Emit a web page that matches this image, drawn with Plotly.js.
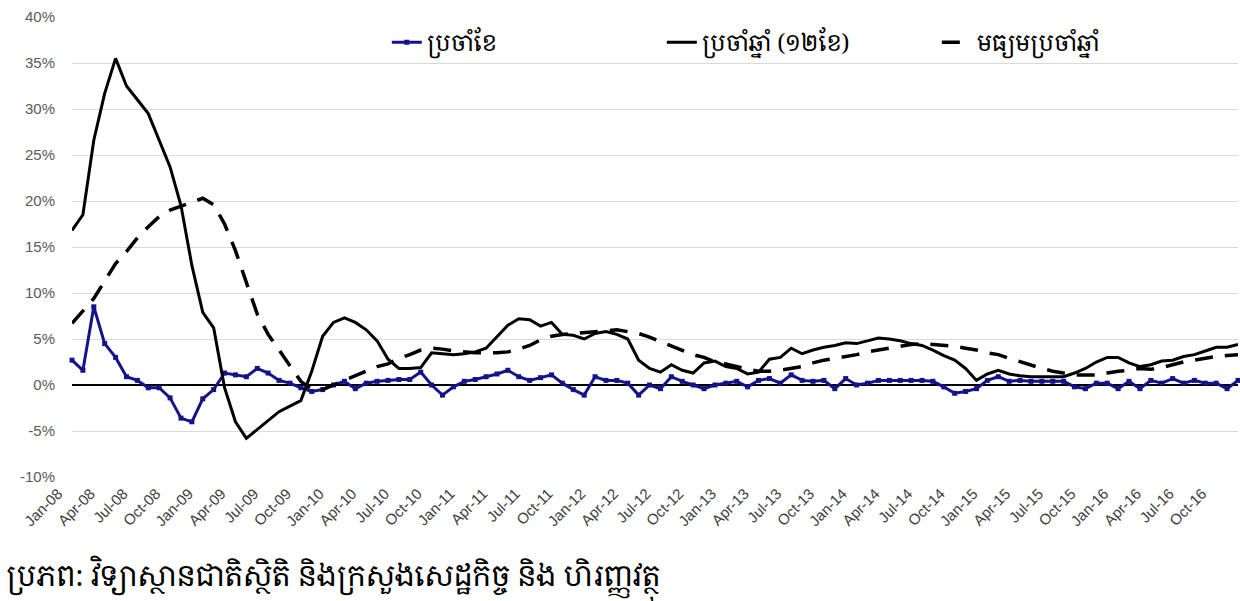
<!DOCTYPE html>
<html>
<head>
<meta charset="utf-8">
<script src="https://cdn.plot.ly/plotly-3.0.1.min.js"></script>
<style>
html,body{margin:0;padding:0;background:#fff;}
#chart{width:1240px;height:601px;}
</style>
</head>
<body>
<div id="chart"></div>
<script>
// Month labels
const MONTHS = ["Jan","Feb","Mar","Apr","May","Jun","Jul","Aug","Sep","Oct","Nov","Dec"];
const YEARS = ["08","09","10","11","12","13","14","15","16"];
const categories = [];
YEARS.forEach(y => MONTHS.forEach(m => categories.push(m + "-" + y)));

// Series names
const nameMonthly = "ប្រចាំខែ";
const nameAnnual = "ប្រចាំឆ្នាំ (១២ខែ)";
const nameAverage = "មធ្យមប្រចាំឆ្នាំ";
const sourceText = "ប្រភព: វិទ្យាស្ថានជាតិស្ថិតិ និងក្រសួងសេដ្ឋកិច្ច និង ហិរញ្ញវត្ថុ";

// Monthly inflation (%)
const monthly = [
 2.7, 1.6, 8.5, 4.5, 3.0, 0.9, 0.5, -0.3, -0.3, -1.4, -3.6, -4.0,
 -1.5, -0.5, 1.3, 1.1, 0.9, 1.8, 1.3, 0.5, 0.2, -0.3, -0.7, -0.5,
 0.0, 0.4, -0.4, 0.2, 0.4, 0.5, 0.6, 0.6, 1.4, 0.0, -1.1, -0.2,
 0.4, 0.6, 0.9, 1.2, 1.6, 0.9, 0.5, 0.8, 1.1, 0.2, -0.5, -1.1,
 0.9, 0.5, 0.5, 0.2, -1.1, 0.0, -0.4, 0.9, 0.4, 0.0, -0.4, 0.0,
 0.2, 0.4, -0.2, 0.5, 0.7, 0.2, 1.1, 0.5, 0.4, 0.5, -0.4, 0.7,
 0.0, 0.2, 0.5, 0.5, 0.5, 0.5, 0.5, 0.4, -0.2, -0.9, -0.7, -0.4,
 0.5, 0.9, 0.4, 0.5, 0.4, 0.4, 0.4, 0.4, -0.2, -0.4, 0.2, 0.2,
 -0.4, 0.4, -0.4, 0.5, 0.2, 0.7, 0.2, 0.5, 0.2, 0.2, -0.4, 0.5
];

// Annual (12-month) inflation (%)
const annual = [
 16.8, 18.5, 26.6, 31.7, 35.5, 32.5, 31.0, 29.5, 26.6, 23.7, 19.5, 13.0,
 7.9, 6.2, -0.3, -4.0, -5.8, -4.8, -3.8, -2.9, -2.3, -1.7, 1.5, 5.3,
 6.8, 7.3, 6.8, 6.0, 4.8, 2.8, 1.8, 1.8, 1.9, 3.5, 3.4, 3.3,
 3.4, 3.6, 4.0, 5.3, 6.5, 7.2, 7.1, 6.4, 6.8, 5.5, 5.4, 5.0,
 5.6, 5.8, 5.5, 5.0, 2.7, 1.8, 1.4, 2.2, 1.6, 1.3, 2.4, 2.6,
 2.0, 1.8, 1.2, 1.4, 2.8, 3.0, 4.0, 3.4, 3.8, 4.1, 4.3, 4.6,
 4.5, 4.8, 5.1, 5.0, 4.8, 4.5, 4.3, 3.8, 3.2, 2.7, 1.8, 0.5,
 1.2, 1.6, 1.2, 1.0, 0.9, 0.9, 0.9, 0.9, 1.3, 1.8, 2.5, 3.0,
 3.0, 2.4, 2.0, 2.2, 2.6, 2.7, 3.1, 3.3, 3.7, 4.1, 4.1, 4.4
];

// Annual average inflation (%)
const average = [
 6.7, 8.0, 9.4, 11.3, 13.2, 14.5, 16.0, 17.2, 18.3, 19.0, 19.4, 19.8,
 20.3, 19.6, 17.5, 14.6, 11.0, 7.7, 5.5, 3.8, 2.0, 0.4, -0.5, -0.5,
 0.0, 0.5, 1.0, 1.5, 2.0, 2.3, 2.9, 3.3, 3.8, 4.0, 3.9, 3.7,
 3.6, 3.5, 3.5, 3.5, 3.6, 3.9, 4.3, 4.9, 5.3, 5.5, 5.6, 5.7,
 5.8, 5.9, 6.0, 5.8, 5.6, 5.2, 4.7, 4.2, 3.8, 3.3, 3.0, 2.5,
 2.3, 2.0, 1.7, 1.5, 1.5, 1.6, 1.8, 2.0, 2.4, 2.7, 2.9, 3.1,
 3.3, 3.6, 3.8, 4.0, 4.2, 4.4, 4.5, 4.4, 4.3, 4.2, 4.0, 3.8,
 3.5, 3.3, 2.9, 2.5, 2.1, 1.8, 1.5, 1.3, 1.1, 1.1, 1.1, 1.3,
 1.5, 1.6, 1.8, 1.7, 1.9, 2.2, 2.5, 2.7, 2.9, 3.1, 3.2, 3.3
];

// Y ticks
const yTicks = [-10, -5, 0, 5, 10, 15, 20, 25, 30, 35, 40];
const yTickText = yTicks.map(v => v + "%");
// X ticks every 3 months
const xTickVals = categories.filter((c, i) => i % 3 === 0);

const khmerFont = "'Khmer OS', 'Noto Serif Khmer', 'Noto Sans Khmer', 'Khmer OS System', 'Noto Sans', sans-serif";

const traces = [
 {
  x: categories, y: monthly, name: nameMonthly, type: "scatter", mode: "lines+markers",
  line: {color: "#14148a", width: 3},
  marker: {color: "#14148a", size: 5, symbol: "square"},
  cliponaxis: false
 },
 {
  x: categories, y: annual, name: nameAnnual, type: "scatter", mode: "lines",
  line: {color: "#000000", width: 3}
 },
 {
  x: categories, y: average, name: nameAverage, type: "scatter", mode: "lines",
  line: {color: "#000000", width: 3.5, dash: "18px,12px"}
 }
];

const layout = {
 width: 1240, height: 601,
 margin: {l: 72, r: 2, t: 17, b: 124},
 paper_bgcolor: "#ffffff", plot_bgcolor: "#ffffff",
 font: {family: "'Liberation Sans', Arial, sans-serif", color: "#404040"},
 showlegend: true,
 legend: {
  orientation: "h", x: 0.27, xanchor: "left", y: 0.945, yanchor: "middle",
  font: {family: khmerFont, size: 23, color: "#000000"},
  bgcolor: "rgba(0,0,0,0)", traceorder: "normal",
  entrywidth: 230, entrywidthmode: "pixels"
 },
 xaxis: {
  type: "category", categoryorder: "array", categoryarray: categories,
  range: [0, categories.length - 1],
  tickmode: "array", tickvals: xTickVals, ticktext: xTickVals,
  tickangle: -45, tickfont: {size: 15, color: "#404040"},
  ticklabelshift: -14, ticklabelstandoff: 4,
  showgrid: false, zeroline: false, showline: false, ticks: ""
 },
 yaxis: {
  range: [-10, 40], tickmode: "array", tickvals: yTicks, ticktext: yTickText,
  tickfont: {size: 15, color: "#595959"},
  ticklabelstandoff: 16,
  showgrid: true, gridcolor: "#d9d9d9", gridwidth: 1,
  zeroline: true, zerolinecolor: "#000000", zerolinewidth: 2,
  showline: false, ticks: "", ticklen: 0
 },
 annotations: [
  {
   xref: "paper", yref: "paper", x: -0.058, y: -0.222, xanchor: "left", yanchor: "middle",
   text: sourceText, showarrow: false,
   font: {family: khmerFont, size: 29, color: "#000000"}
  }
 ]
};

Plotly.newPlot("chart", traces, layout, {displayModeBar: false, staticPlot: true});
</script>
</body>
</html>
